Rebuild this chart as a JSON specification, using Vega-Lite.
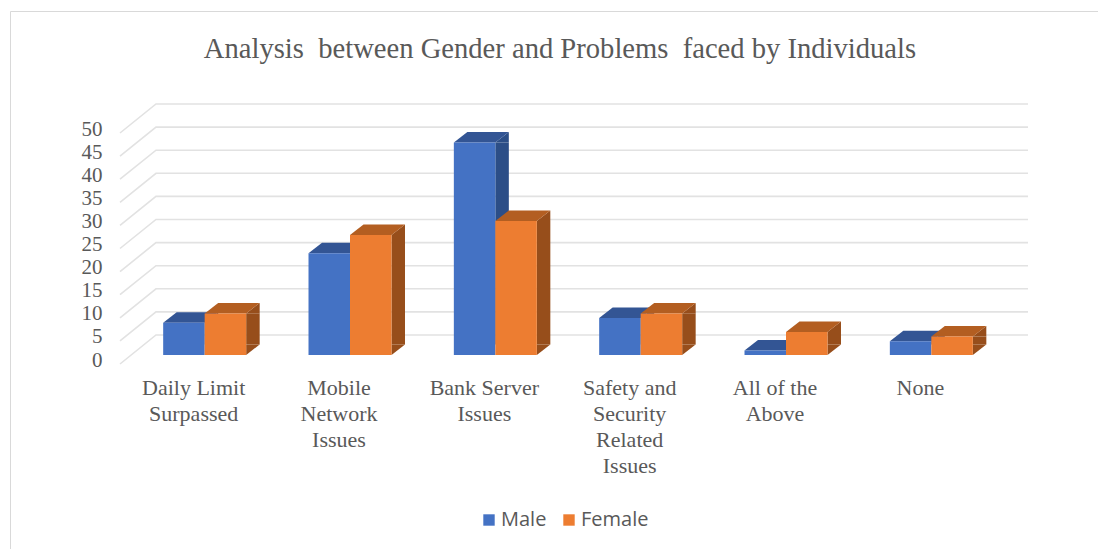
{
  "$schema": "https://vega.github.io/schema/vega-lite/v6.json",
  "autosize": "none",
  "padding": {"left": 10, "top": 11, "right": 0, "bottom": 0},
  "width": 1088,
  "height": 538,
  "background": "white",
  "view": {"stroke": "#d9d9d9", "strokeWidth": 1, "fill": "white"},
  "title": {
    "text": "Analysis\u00a0 between Gender and Problems\u00a0 faced by Individuals",
    "font": "Liberation Serif",
    "fontSize": 28.6,
    "fontWeight": "normal",
    "color": "#595959",
    "anchor": "middle",
    "dx": 6,
    "baseline": "middle",
    "offset": -67
  },
  "data": {
    "values": [
      {"problem": "Daily Limit Surpassed", "gender": "Male", "count": 7},
      {"problem": "Daily Limit Surpassed", "gender": "Female", "count": 9},
      {"problem": "Mobile Network Issues", "gender": "Male", "count": 22},
      {"problem": "Mobile Network Issues", "gender": "Female", "count": 26},
      {"problem": "Bank Server Issues", "gender": "Male", "count": 46},
      {"problem": "Bank Server Issues", "gender": "Female", "count": 29},
      {"problem": "Safety and Security Related Issues", "gender": "Male", "count": 8},
      {"problem": "Safety and Security Related Issues", "gender": "Female", "count": 9},
      {"problem": "All of the Above", "gender": "Male", "count": 1},
      {"problem": "All of the Above", "gender": "Female", "count": 5},
      {"problem": "None", "gender": "Male", "count": 3},
      {"problem": "None", "gender": "Female", "count": 4}
    ]
  },
  "encoding": {
    "x": {
      "field": "problem",
      "type": "nominal",
      "title": null,
      "scale": {
        "domain": ["Daily Limit Surpassed", "Mobile Network Issues", "Bank Server Issues", "Safety and Security Related Issues", "All of the Above", "None"],
        "range": [122, 994],
        "paddingInner": 0.429,
        "paddingOuter": 0.2145
      },
      "axis": {
        "orient": "bottom",
        "offset": -172,
        "domain": false,
        "ticks": false,
        "grid": false,
        "labelAngle": 0,
        "labelPadding": 0,
        "labelOffset": -11,
        "labelBaseline": "top",
        "labelFont": "Liberation Serif",
        "labelFontSize": 22,
        "labelColor": "#595959",
        "labelLimit": 0,
        "labelLineHeight": 26,
        "labelExpr": "{'Daily Limit Surpassed':['Daily Limit','Surpassed'],'Mobile Network Issues':['Mobile','Network','Issues'],'Bank Server Issues':['Bank Server','Issues'],'Safety and Security Related Issues':['Safety and','Security','Related','Issues'],'All of the Above':['All of the','Above'],'None':['None']}[datum.label]"
      }
    },
    "xOffset": {
      "field": "gender",
      "type": "nominal",
      "scale": {"domain": ["Male", "Female"]}
    },
    "y": {
      "field": "count",
      "type": "quantitative",
      "title": null,
      "scale": {"domain": [0, 50], "range": [353, 122], "nice": false},
      "axis": {
        "orient": "left",
        "offset": -92,
        "values": [0, 5, 10, 15, 20, 25, 30, 35, 40, 45, 50],
        "domain": false,
        "ticks": false,
        "grid": false,
        "labelPadding": 0,
        "labelOffset": -4,
        "labelFont": "Liberation Serif",
        "labelFontSize": 21,
        "labelColor": "#595959"
      }
    }
  },
  "layer": [
    {
      "description": "Wall and floor gridlines: each tick draws the floor diagonal and the back-wall line",
      "data": {"values": [{"tick": 0}, {"tick": 5}, {"tick": 10}, {"tick": 15}, {"tick": 20}, {"tick": 25}, {"tick": 30}, {"tick": 35}, {"tick": 40}, {"tick": 45}, {"tick": 50}]},
      "mark": {
        "type": "point",
        "shape": "M-63.92,0L-27.92,-29L844.08,-29",
        "size": 4,
        "filled": false,
        "fill": null,
        "stroke": "#e2e2e2",
        "strokeWidth": 1.6,
        "opacity": 1
      },
      "encoding": {
        "x": {"datum": "Daily Limit Surpassed", "type": "nominal"},
        "xOffset": {"datum": "Male", "type": "nominal"},
        "y": {"field": "tick", "type": "quantitative", "title": null}
      }
    },
    {
      "transform": [{"filter": "datum.gender == 'Male'"}],
      "mark": {"type": "rule", "strokeWidth": 13.5, "color": "#2c4e87", "xOffset": 6.75, "yOffset": -9, "y2Offset": -19.5},
      "encoding": {"xOffset": null, "y2": {"datum": 0}}
    },
    {
      "transform": [{"filter": "datum.gender == 'Male'"}],
      "mark": {"type": "point", "shape": "M20.75,0L34.25,-10.5L34.25,0Z", "size": 4, "filled": true, "opacity": 1, "strokeWidth": 0, "color": "#2c4e87", "yOffset": -9}
    },
    {
      "transform": [{"filter": "datum.gender == 'Male'"}],
      "mark": {"type": "point", "shape": "M-20.75,0L-7.25,-10.5L34.25,-10.5L20.75,0Z", "size": 4, "filled": true, "opacity": 1, "strokeWidth": 0, "color": "#335594", "yOffset": -9}
    },
    {
      "transform": [{"filter": "datum.gender == 'Male'"}],
      "mark": {"type": "bar", "yOffset": -9, "y2Offset": -9, "color": "#4472c4"},
      "encoding": {"y2": {"datum": 0}}
    },
    {
      "transform": [{"filter": "datum.gender == 'Female'"}],
      "mark": {"type": "rule", "strokeWidth": 13.5, "color": "#974e1b", "xOffset": 48.25, "yOffset": -9, "y2Offset": -19.5},
      "encoding": {"xOffset": null, "y2": {"datum": 0}}
    },
    {
      "transform": [{"filter": "datum.gender == 'Female'"}],
      "mark": {"type": "point", "shape": "M20.75,0L34.25,-10.5L34.25,0Z", "size": 4, "filled": true, "opacity": 1, "strokeWidth": 0, "color": "#974e1b", "yOffset": -9}
    },
    {
      "transform": [{"filter": "datum.gender == 'Female'"}],
      "mark": {"type": "point", "shape": "M20.75,0L34.25,-10.5L20.75,-10.5Z", "size": 4, "filled": true, "opacity": 1, "strokeWidth": 0, "color": "#974e1b", "yOffset": -9},
      "encoding": {"y": {"datum": 0, "type": "quantitative"}}
    },
    {
      "transform": [{"filter": "datum.gender == 'Female'"}],
      "mark": {"type": "point", "shape": "M-20.75,0L-7.25,-10.5L34.25,-10.5L20.75,0Z", "size": 4, "filled": true, "opacity": 1, "strokeWidth": 0, "color": "#b35e21", "yOffset": -9}
    },
    {
      "transform": [{"filter": "datum.gender == 'Female'"}],
      "mark": {"type": "bar", "yOffset": -9, "y2Offset": -9, "color": "#ed7d31"},
      "encoding": {"y2": {"datum": 0}}
    },
    {
      "description": "Legend carrier: zero-height bars keyed by gender",
      "mark": {"type": "bar", "yOffset": -9, "y2Offset": -9},
      "encoding": {
        "y": {"datum": 0, "type": "quantitative"},
        "y2": {"datum": 0},
        "color": {
          "field": "gender",
          "type": "nominal",
          "scale": {"domain": ["Male", "Female"], "range": ["#4472c4", "#ed7d31"]},
          "legend": {
            "title": null,
            "orient": "none",
            "legendX": 469,
            "legendY": 499,
            "direction": "horizontal",
            "symbolType": "square",
            "symbolSize": 130,
            "symbolStrokeWidth": 0,
            "labelFont": "Open Sans",
            "labelFontSize": 20,
            "labelColor": "#595959",
            "columnPadding": 12,
            "labelOffset": 2
          }
        }
      }
    }
  ]
}
